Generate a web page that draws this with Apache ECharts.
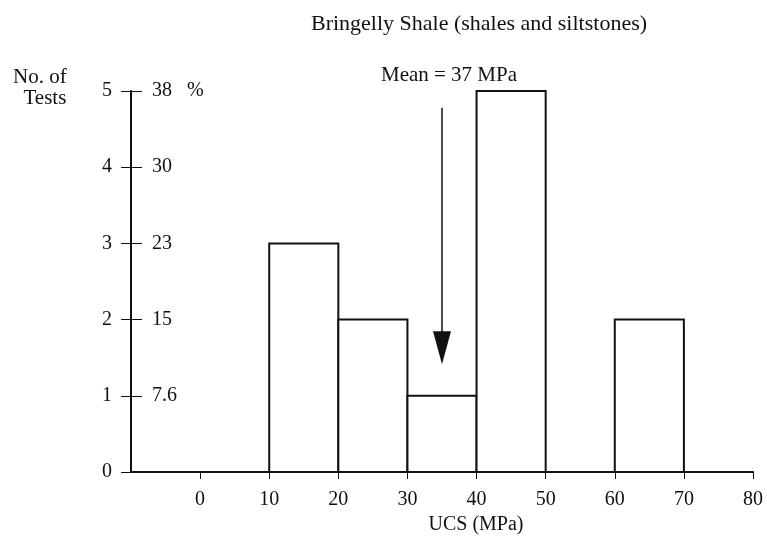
<!DOCTYPE html>
<html>
<head>
<meta charset="utf-8">
<script src="https://cdn.jsdelivr.net/npm/echarts@6/dist/echarts.min.js"></script>
<style>
  html, body { margin: 0; padding: 0; background: #fff; }
  #chart { width: 767px; height: 541px; }
</style>
</head>
<body>
<div id="chart"></div>
<script>
// Histogram bins (MPa) and test counts
const binStarts = [10, 20, 30, 40, 50, 60];
const binEnds   = [20, 30, 40, 50, 60, 70];
const counts    = [3, 2, 1, 5, 0, 2];

// Axis tick labels
const countTicks   = [0, 1, 2, 3, 4, 5];
const percentTicks = ['', '7.6', '15', '23', '30', '38   %'];
const ucsTicks     = [0, 10, 20, 30, 40, 50, 60, 70, 80];

// Mean arrow (x in MPa, y in number of tests; the end is the arrow head's centre)
const meanValue = 35;
const arrowTop = 4.78;
const arrowEnd = 1.63;

const FONT = 'Liberation Serif';
const chart = echarts.init(document.getElementById('chart'));

const histData = binStarts.map((s, i) => [s, binEnds[i], counts[i]]);

chart.setOption({
  animation: false,
  backgroundColor: '#fff',
  title: {
    text: 'Bringelly Shale (shales and siltstones)',
    left: 474, top: 8, textAlign: 'center',
    textStyle: { fontFamily: FONT, fontSize: 22, fontWeight: 'normal', color: '#111' }
  },
  graphic: [{
    type: 'text', left: 13, top: 67,
    style: { text: 'No. of\n  Tests', font: '21px "Liberation Serif"', fill: '#111', lineHeight: 21, align: 'left' }
  }],
  grid: { left: 131, right: 14, top: 91, bottom: 69 },
  xAxis: {
    type: 'value', min: -10, max: 80, interval: 10,
    name: 'UCS (MPa)', nameLocation: 'middle', nameGap: 42,
    nameTextStyle: { fontFamily: FONT, fontSize: 20, color: '#111', padding: [0, 0, 0, 68] },
    axisLine: { lineStyle: { color: '#111', width: 2 } },
    axisTick: { show: true, length: 7, customValues: ucsTicks, lineStyle: { color: '#111', width: 1 } },
    axisLabel: {
      margin: 18, fontFamily: FONT, fontSize: 20, color: '#111',
      customValues: ucsTicks,
      formatter: v => (ucsTicks.indexOf(v) >= 0 ? String(v) : '')
    },
    splitLine: { show: false }
  },
  yAxis: [{
    type: 'value', min: 0, max: 5, interval: 1,
    axisLine: { show: true, onZero: false, lineStyle: { color: '#111', width: 2 } },
    axisTick: { show: true, length: 10, lineStyle: { color: '#111', width: 1 } },
    axisLabel: { margin: 19, fontFamily: FONT, fontSize: 20, color: '#111',
      formatter: v => String(countTicks[v]) },
    splitLine: { show: false }
  }, {
    type: 'value', min: 0, max: 5, interval: 1, position: 'left',
    axisLine: { show: false, onZero: false },
    axisTick: { show: true, inside: true, length: 11, lineStyle: { color: '#111', width: 1 } },
    axisLabel: { inside: true, margin: 21, fontFamily: FONT, fontSize: 20, color: '#111',
      formatter: v => percentTicks[v] },
    splitLine: { show: false }
  }],
  series: [{
    type: 'custom',
    data: histData,
    encode: { x: [0, 1], y: 2 },
    renderItem: (params, api) => {
      const p0 = api.coord([api.value(0), 0]);
      const p1 = api.coord([api.value(1), api.value(2)]);
      return {
        type: 'rect',
        shape: { x: p0[0], y: p1[1], width: p1[0] - p0[0], height: p0[1] - p1[1] },
        style: { fill: '#fff', stroke: '#111', lineWidth: 2 }
      };
    },
    z: 2
  }, {
    type: 'line',
    data: [],
    markLine: {
      silent: true,
      symbol: ['none', 'triangle'],
      symbolSize: [18, 33],
      lineStyle: { color: '#111', width: 1.5, type: 'solid' },
      label: {
        show: true, position: 'start', distance: 22,
        formatter: 'Mean = 37 MPa',
        fontFamily: FONT, fontSize: 21, color: '#111', offset: [7, 0]
      },
      data: [[{ coord: [meanValue, arrowTop] }, { coord: [meanValue, arrowEnd] }]]
    },
    z: 3
  }]
});
</script>
</body>
</html>
